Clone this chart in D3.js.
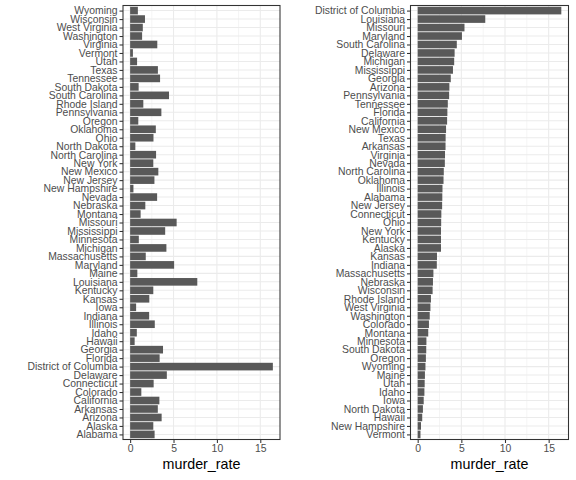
<!DOCTYPE html>
<html>
<head>
<meta charset="utf-8">
<script src="https://cdn.jsdelivr.net/npm/d3@7"></script>
<style>
  body { margin: 0; background: #fff; }
  text { font-family: "Liberation Sans", Arial, sans-serif; }
</style>
</head>
<body>
<div id="chart-container"></div>
<script>
const states = ["Alabama", "Alaska", "Arizona", "Arkansas", "California", "Colorado",
  "Connecticut", "Delaware", "District of Columbia", "Florida", "Georgia", "Hawaii",
  "Idaho", "Illinois", "Indiana", "Iowa", "Kansas", "Kentucky", "Louisiana", "Maine",
  "Maryland", "Massachusetts", "Michigan", "Minnesota", "Mississippi", "Missouri",
  "Montana", "Nebraska", "Nevada", "New Hampshire", "New Jersey", "New Mexico",
  "New York", "North Carolina", "North Dakota", "Ohio", "Oklahoma", "Oregon",
  "Pennsylvania", "Rhode Island", "South Carolina", "South Dakota", "Tennessee",
  "Texas", "Utah", "Vermont", "Virginia", "Washington", "West Virginia", "Wisconsin",
  "Wyoming"];

const murderRate = [2.82, 2.67, 3.63, 3.19, 3.37, 1.29, 2.71, 4.23, 16.45, 3.40, 3.79,
  0.52, 0.77, 2.84, 2.19, 0.69, 2.21, 2.67, 7.74, 0.83, 5.07, 1.80, 4.18, 1.00, 4.04,
  5.36, 1.21, 1.75, 3.11, 0.38, 2.80, 3.25, 2.67, 2.99, 0.60, 2.69, 2.96, 0.94, 3.60,
  1.52, 4.48, 0.98, 3.45, 3.20, 0.80, 0.32, 3.13, 1.38, 1.46, 1.71, 0.89];

const xTicks = [0, 5, 10, 15];
const xMinor = [2.5, 7.5, 12.5];

const main = function() {
  const rows = states.map((s, i) => ({ state: s, rate: murderRate[i] }));
  const byName = rows.slice();
  const byRate = rows.slice().sort((a, b) => a.rate - b.rate);

  const svg = d3.select("#chart-container")
    .append("svg")
    .attr("width", 576)
    .attr("height", 480);

  const maxRate = d3.max(murderRate);
  const pad = maxRate * 0.05;

  const drawPanel = function(data, left, right) {
    const top = 5.5, bottom = 439.5;
    const g = svg.append("g");

    const x = d3.scaleLinear().domain([-pad, maxRate + pad]).range([left, right]);
    const n = data.length;
    const yUnit = (bottom - top) / (n - 1 + 1.2);
    const y = d3.scalePoint()
      .domain(data.map(d => d.state))
      .range([bottom - 0.6 * yUnit, top + 0.6 * yUnit]);

    // minor grid
    g.selectAll(".minor")
      .data(xMinor)
      .enter()
      .append("line")
      .attr("x1", d => x(d)).attr("x2", d => x(d))
      .attr("y1", top).attr("y2", bottom)
      .style("stroke", "#ebebeb")
      .style("stroke-width", 0.55);

    // major grid
    g.selectAll(".vmajor")
      .data(xTicks)
      .enter()
      .append("line")
      .attr("x1", d => x(d)).attr("x2", d => x(d))
      .attr("y1", top).attr("y2", bottom)
      .style("stroke", "#ebebeb")
      .style("stroke-width", 1.07);

    g.selectAll(".hmajor")
      .data(data)
      .enter()
      .append("line")
      .attr("x1", left).attr("x2", right)
      .attr("y1", d => y(d.state)).attr("y2", d => y(d.state))
      .style("stroke", "#ebebeb")
      .style("stroke-width", 1.07);

    // bars
    const bh = yUnit * 0.9;
    g.selectAll(".bar")
      .data(data)
      .enter()
      .append("rect")
      .attr("x", x(0))
      .attr("y", d => y(d.state) - bh / 2)
      .attr("width", d => x(d.rate) - x(0))
      .attr("height", bh)
      .style("fill", "#595959");

    // border
    g.append("rect")
      .attr("x", left).attr("y", top)
      .attr("width", right - left).attr("height", bottom - top)
      .style("fill", "none")
      .style("stroke", "#333333")
      .style("stroke-width", 1.07);

    // y axis
    const yAxis = g.append("g")
      .attr("transform", "translate(" + left + ",0)")
      .call(d3.axisLeft(y).tickSize(3.5).tickPadding(2));
    yAxis.select(".domain").remove();
    yAxis.selectAll(".tick line").style("stroke", "#333333").style("stroke-width", 1.07);
    yAxis.selectAll(".tick text")
      .style("fill", "#4d4d4d")
      .style("font-size", "10.4px")
      .style("font-family", "Liberation Sans, Arial, sans-serif");

    // x axis
    const xAxis = g.append("g")
      .attr("transform", "translate(0," + bottom + ")")
      .call(d3.axisBottom(x).tickValues(xTicks).tickSize(3.5).tickPadding(2));
    xAxis.select(".domain").remove();
    xAxis.selectAll(".tick line").style("stroke", "#333333").style("stroke-width", 1.07);
    xAxis.selectAll(".tick text")
      .style("fill", "#4d4d4d")
      .style("font-size", "10.4px")
      .style("font-family", "Liberation Sans, Arial, sans-serif");

    g.append("text")
      .attr("x", (left + right) / 2)
      .attr("y", 469)
      .attr("text-anchor", "middle")
      .style("font-size", "14.3px")
      .style("fill", "#000")
      .text("murder_rate");
  };

  drawPanel(byName, 123, 280);
  drawPanel(byRate, 410.5, 568.5);
};

window.onload = main;
</script>
</body>
</html>
